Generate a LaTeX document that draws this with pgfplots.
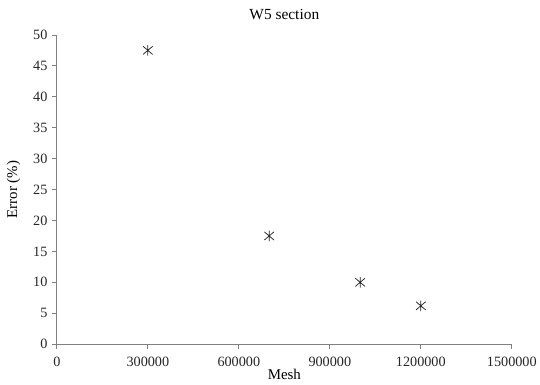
\documentclass[border=0pt]{standalone}
\usepackage{pgfplots}
\pgfplotsset{compat=1.18}
\usepackage{fontspec}
\setmainfont{Liberation Serif}
\pgfdeclareplotmark{xstar}{%
  \pgfpathmoveto{\pgfqpoint{0pt}{-1.1\pgfplotmarksize}}%
  \pgfpathlineto{\pgfqpoint{0pt}{1.1\pgfplotmarksize}}%
  \pgfpathmoveto{\pgfqpoint{-\pgfplotmarksize}{-0.85\pgfplotmarksize}}%
  \pgfpathlineto{\pgfqpoint{\pgfplotmarksize}{0.85\pgfplotmarksize}}%
  \pgfpathmoveto{\pgfqpoint{-\pgfplotmarksize}{0.85\pgfplotmarksize}}%
  \pgfpathlineto{\pgfqpoint{\pgfplotmarksize}{-0.85\pgfplotmarksize}}%
  \pgfusepathqstroke}
\begin{document}
\begin{tikzpicture}
\begin{axis}[
  name=ax,
  scale only axis,
  width=456bp, height=310bp,
  xmin=0, xmax=1500000, ymin=0, ymax=50,
  xtick={0,300000,600000,900000,1200000,1500000},
  xticklabels={0,300000,600000,900000,1200000,1500000},
  ytick={0,5,...,50},
  axis x line*=bottom, axis y line*=left,
  axis line style={draw=gray, line width=0.9pt},
  tick style={draw=gray, line width=0.8pt},
  tick align=outside, major tick length=5bp,
  scaled x ticks=false,
  /pgf/number format/assume math mode=true,
  ticklabel style={font=\fontsize{14.3}{16}\selectfont, text=black!85},
  xticklabel style={yshift=-4bp},
  yticklabel style={xshift=-1bp},
  title={W5 section},
  title style={font=\fontsize{15.5}{17}\selectfont, yshift=6bp},
  xlabel={Mesh},
  ylabel={Error (\%)},
  label style={font=\fontsize{15}{17}\selectfont},
  xlabel style={yshift=4bp},
  ylabel style={yshift=6bp},
  clip=false,
]
\addplot[only marks, mark=xstar, mark size=4.8bp, mark options={line width=0.75pt, draw=black!85}] coordinates {
  (300000,47.5) (700000,17.5) (1000000,10) (1200000,6.2)
};
\end{axis}
\path (ax.south west)+(-57bp,-40bp) coordinate (bl);
\path (ax.north east)+(27bp,35bp) coordinate (tr);
\useasboundingbox (bl) rectangle (tr);
\end{tikzpicture}
\end{document}
